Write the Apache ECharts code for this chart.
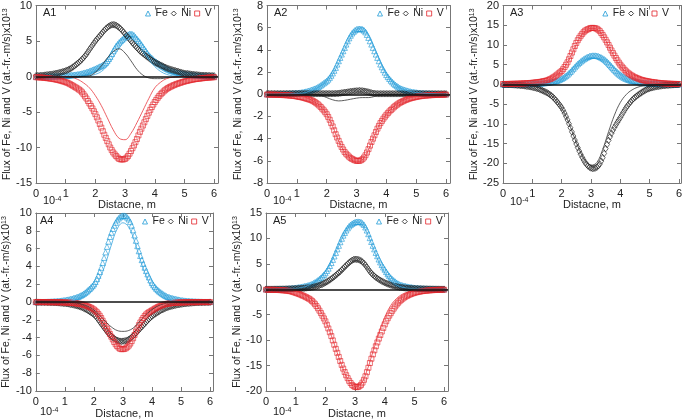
<!DOCTYPE html>
<html><head><meta charset="utf-8">
<script src="https://cdn.jsdelivr.net/npm/echarts@6/dist/echarts.min.js"></script>
<style>html,body{margin:0;padding:0;background:#fff}#c{width:685px;height:420px}</style>
</head><body><div id="c"></div>
<script>
// distance grid (x10^-4 m)
const X_MARK = [0,0.1,0.2,0.3,0.4,0.5,0.6,0.7,0.8,0.9,1,1.1,1.2,1.3,1.4,1.5,1.6,1.7,1.8,1.9,2,2.1,2.2,2.3,2.4,2.5,2.6,2.7,2.8,2.9,3,3.1,3.2,3.3,3.4,3.5,3.6,3.7,3.8,3.9,4,4.1,4.2,4.3,4.4,4.5,4.6,4.7,4.8,4.9,5,5.1,5.2,5.3,5.4,5.5,5.6,5.7,5.8,5.9,6];
const X_MID = [0.05,0.15,0.25,0.35,0.45,0.55,0.65,0.75,0.85,0.95,1.05,1.15,1.25,1.35,1.45,1.55,1.65,1.75,1.85,1.95,2.05,2.15,2.25,2.35,2.45,2.55,2.65,2.75,2.85,2.95,3.05,3.15,3.25,3.35,3.45,3.55,3.65,3.75,3.85,3.95,4.05,4.15,4.25,4.35,4.45,4.55,4.65,4.75,4.85,4.95,5.05,5.15,5.25,5.35,5.45,5.55,5.65,5.75,5.85,5.95];
const X_FIT = [0,0.2,0.4,0.6,0.8,1,1.2,1.4,1.6,1.8,2,2.2,2.4,2.6,2.8,3,3.2,3.4,3.6,3.8,4,4.2,4.4,4.6,4.8,5,5.2,5.4,5.6,5.8,6];
const X_TICKS = ['0','1','2','3','4','5','6'];

// A1
const A1_FE = [0,0,0,0.01,0.02,0.03,0.04,0.05,0.07,0.09,0.12,0.16,0.2,0.25,0.3,0.38,0.48,0.6,0.75,0.92,1.1,1.3,1.5,1.75,2.2,2.8,3.6,4.3,4.8,5.2,5.6,5.9,6.0,5.8,5.3,4.8,4.2,3.6,3.0,2.6,2.2,1.9,1.6,1.35,1.1,0.9,0.76,0.64,0.53,0.43,0.35,0.29,0.23,0.18,0.14,0.11,0.08,0.06,0.04,0.03,0.02];
const A1_FE_M = [0,0,0.005,0.015,0.025,0.035,0.045,0.06,0.08,0.1,0.14,0.18,0.22,0.27,0.34,0.43,0.54,0.67,0.83,1.0,1.2,1.4,1.62,1.95,2.5,3.2,3.95,4.55,5.0,5.4,5.75,5.98,5.93,5.55,5.05,4.5,3.9,3.3,2.8,2.4,2.05,1.75,1.47,1.22,1.0,0.83,0.7,0.58,0.48,0.39,0.32,0.26,0.2,0.16,0.12,0.09,0.07,0.05,0.035,0.025];
const A1_NI = [0.1,0.12,0.15,0.2,0.25,0.3,0.37,0.45,0.55,0.67,0.8,0.98,1.2,1.5,1.85,2.2,2.65,3.15,3.8,4.4,5.0,5.5,6.0,6.5,6.9,7.2,7.3,7.2,6.9,6.5,6.0,5.5,5.0,4.5,4.05,3.6,3.25,2.9,2.6,2.3,2.0,1.8,1.6,1.4,1.2,1.05,0.92,0.8,0.68,0.55,0.45,0.4,0.34,0.28,0.24,0.2,0.17,0.15,0.13,0.11,0.1];
const A1_NI_M = [0.11,0.13,0.17,0.22,0.27,0.33,0.41,0.5,0.61,0.73,0.89,1.08,1.35,1.67,2.02,2.42,2.9,3.47,4.1,4.7,5.25,5.75,6.25,6.72,7.07,7.27,7.27,7.07,6.72,6.25,5.75,5.25,4.75,4.27,3.82,3.42,3.07,2.75,2.45,2.15,1.9,1.7,1.5,1.3,1.12,0.98,0.86,0.74,0.61,0.5,0.42,0.37,0.31,0.26,0.22,0.18,0.16,0.14,0.12,0.1];
const A1_V = [-0.1,-0.12,-0.15,-0.2,-0.25,-0.3,-0.37,-0.45,-0.55,-0.67,-0.8,-0.97,-1.2,-1.45,-1.7,-2.0,-2.5,-3.1,-3.8,-4.5,-5.3,-6.2,-7.2,-8.2,-9.1,-10.0,-10.7,-11.2,-11.6,-11.7,-11.6,-11.2,-10.5,-9.7,-8.8,-7.8,-6.9,-6.0,-5.1,-4.3,-3.6,-3.0,-2.5,-2.1,-1.75,-1.5,-1.3,-1.12,-0.97,-0.83,-0.7,-0.6,-0.5,-0.42,-0.35,-0.3,-0.25,-0.2,-0.16,-0.13,-0.1];
const A1_V_M = [-0.11,-0.13,-0.17,-0.22,-0.27,-0.33,-0.41,-0.5,-0.61,-0.73,-0.88,-1.08,-1.32,-1.57,-1.85,-2.23,-2.8,-3.45,-4.15,-4.9,-5.75,-6.7,-7.7,-8.65,-9.55,-10.37,-10.97,-11.42,-11.67,-11.67,-11.42,-10.87,-10.1,-9.25,-8.3,-7.35,-6.45,-5.55,-4.7,-3.95,-3.3,-2.75,-2.3,-1.92,-1.62,-1.4,-1.21,-1.04,-0.9,-0.76,-0.65,-0.55,-0.46,-0.38,-0.32,-0.27,-0.22,-0.18,-0.14,-0.11];
const A1_FE_FIT = [0,0,0,0,0,0,0,0.02,0.05,0.1,0.3,0.7,1.5,2.7,4.0,5.0,5.3,4.7,3.6,2.4,1.4,0.7,0.3,0.1,0.03,0,0,0,0,0,0];
const A1_NI_FIT = [0,0,0,0,0,0,0,0.01,0.03,0.1,0.6,1.5,2.6,3.5,3.9,3.3,2.2,1.0,0.2,-0.2,-0.3,-0.3,-0.2,-0.1,-0.05,0,0,0,0,0,0];
const A1_V_FIT = [0,0,0,0,0,0,-0.1,-0.4,-0.9,-1.6,-2.7,-4.1,-5.8,-7.5,-8.7,-8.9,-8.0,-6.5,-4.8,-3.1,-1.6,-0.8,-0.3,-0.1,-0.03,0,0,0,0,0,0];

// A2
const A2_FE = [0.02,0.02,0.02,0.03,0.03,0.04,0.05,0.06,0.07,0.09,0.11,0.14,0.18,0.24,0.31,0.4,0.5,0.63,0.8,1.0,1.2,1.5,1.9,2.4,3.0,3.6,4.2,4.8,5.3,5.65,5.85,5.9,5.85,5.6,5.1,4.5,3.9,3.3,2.7,2.2,1.75,1.4,1.1,0.85,0.65,0.5,0.4,0.32,0.25,0.2,0.16,0.13,0.1,0.08,0.07,0.06,0.05,0.04,0.03,0.03,0.02];
const A2_FE_M = [0.02,0.02,0.025,0.03,0.035,0.045,0.055,0.065,0.08,0.1,0.12,0.16,0.21,0.27,0.35,0.45,0.56,0.71,0.9,1.1,1.34,1.69,2.14,2.7,3.3,3.9,4.5,5.06,5.5,5.77,5.89,5.89,5.75,5.37,4.8,4.2,3.6,3.0,2.45,1.97,1.57,1.24,0.97,0.75,0.57,0.45,0.36,0.28,0.22,0.18,0.14,0.11,0.09,0.075,0.065,0.055,0.045,0.035,0.03,0.025];
const A2_NI = [0.05,0.05,0.05,0.05,0.05,0.05,0.05,0.05,0.05,0.05,0.05,0.05,0.05,0.05,0.05,0.05,0.05,0.05,0.05,0.05,0.05,0.05,0.05,0.06,0.08,0.12,0.16,0.2,0.24,0.28,0.3,0.32,0.3,0.26,0.2,0.12,0.07,0.04,0.04,0.04,0.04,0.04,0.04,0.04,0.04,0.04,0.04,0.04,0.04,0.04,0.04,0.04,0.04,0.04,0.04,0.04,0.04,0.04,0.04,0.04,0.04];
const A2_NI_M = [0.05,0.05,0.05,0.05,0.05,0.05,0.05,0.05,0.05,0.05,0.05,0.05,0.05,0.05,0.05,0.05,0.05,0.05,0.05,0.05,0.05,0.05,0.055,0.07,0.1,0.14,0.18,0.22,0.26,0.29,0.31,0.31,0.28,0.23,0.16,0.09,0.055,0.04,0.04,0.04,0.04,0.04,0.04,0.04,0.04,0.04,0.04,0.04,0.04,0.04,0.04,0.04,0.04,0.04,0.04,0.04,0.04,0.04,0.04,0.04];
const A2_V = [-0.03,-0.03,-0.04,-0.05,-0.06,-0.07,-0.08,-0.1,-0.12,-0.15,-0.2,-0.25,-0.3,-0.38,-0.46,-0.55,-0.7,-0.9,-1.15,-1.45,-1.8,-2.3,-2.9,-3.6,-4.2,-4.75,-5.2,-5.5,-5.75,-5.9,-6.0,-6.0,-5.85,-5.5,-4.95,-4.3,-3.7,-3.1,-2.6,-2.2,-1.85,-1.55,-1.3,-1.05,-0.85,-0.7,-0.57,-0.46,-0.37,-0.3,-0.24,-0.19,-0.15,-0.12,-0.1,-0.08,-0.07,-0.06,-0.05,-0.04,-0.03];
const A2_V_M = [-0.03,-0.035,-0.045,-0.055,-0.065,-0.075,-0.09,-0.11,-0.135,-0.17,-0.22,-0.27,-0.34,-0.42,-0.5,-0.62,-0.8,-1.02,-1.3,-1.62,-2.04,-2.6,-3.25,-3.9,-4.5,-4.98,-5.36,-5.63,-5.83,-5.96,-6.01,-5.94,-5.7,-5.25,-4.63,-4.0,-3.4,-2.85,-2.4,-2.02,-1.7,-1.42,-1.17,-0.95,-0.77,-0.63,-0.51,-0.41,-0.33,-0.27,-0.21,-0.17,-0.13,-0.11,-0.09,-0.075,-0.065,-0.055,-0.045,-0.035];
const A2_FE_FIT = [0,0,0.01,0.02,0.04,0.07,0.1,0.25,0.45,0.75,1.15,1.8,2.8,4.0,5.1,5.8,6.0,5.4,4.2,2.9,1.8,1.1,0.65,0.4,0.25,0.15,0.1,0.06,0.04,0.02,0.01];
const A2_NI_FIT = [0,0,0,0,0,0,0,0,0,-0.1,-0.3,-0.5,-0.6,-0.55,-0.45,-0.35,-0.3,-0.3,-0.2,-0.05,0,0,0,0,0,0,0,0,0,0,0];
const A2_V_FIT = [0,0,-0.01,-0.02,-0.05,-0.1,-0.2,-0.4,-0.7,-1.1,-1.8,-2.9,-4.2,-5.2,-5.8,-6.1,-5.9,-5.0,-3.7,-2.6,-1.8,-1.2,-0.8,-0.5,-0.3,-0.2,-0.12,-0.08,-0.05,-0.03,-0.02];

// A3
const A3_FE = [0.02,0.02,0.03,0.03,0.04,0.05,0.06,0.08,0.1,0.12,0.15,0.19,0.23,0.28,0.34,0.42,0.52,0.66,0.85,1.1,1.45,1.9,2.5,3.2,4.0,4.8,5.5,6.1,6.6,7.0,7.25,7.3,7.25,7.0,6.6,6.1,5.4,4.6,3.8,3.1,2.5,2.0,1.6,1.25,0.98,0.78,0.62,0.5,0.4,0.32,0.26,0.21,0.17,0.14,0.11,0.09,0.07,0.06,0.05,0.04,0.03];
const A3_FE_M = [0.02,0.025,0.03,0.035,0.045,0.055,0.07,0.09,0.11,0.135,0.17,0.21,0.255,0.31,0.38,0.47,0.59,0.75,0.97,1.27,1.66,2.18,2.84,3.6,4.4,5.17,5.82,6.37,6.82,7.15,7.3,7.3,7.15,6.82,6.37,5.77,5.0,4.2,3.45,2.8,2.24,1.8,1.42,1.1,0.88,0.7,0.56,0.45,0.36,0.29,0.23,0.19,0.155,0.125,0.1,0.08,0.065,0.055,0.045,0.035];
const A3_NI = [-0.05,-0.06,-0.08,-0.1,-0.14,-0.2,-0.27,-0.35,-0.45,-0.57,-0.7,-0.88,-1.1,-1.4,-1.75,-2.1,-2.6,-3.2,-4.0,-4.9,-5.9,-7.3,-9.0,-11.0,-13.1,-15.1,-16.9,-18.5,-19.8,-20.7,-21.2,-21.3,-21.0,-20.2,-18.6,-16.3,-14.2,-12.4,-10.9,-9.6,-8.4,-7.1,-5.9,-4.9,-4.0,-3.3,-2.7,-2.2,-1.7,-1.3,-1.0,-0.8,-0.63,-0.5,-0.39,-0.3,-0.23,-0.17,-0.12,-0.08,-0.05];
const A3_NI_M = [-0.055,-0.07,-0.09,-0.12,-0.17,-0.23,-0.31,-0.4,-0.51,-0.63,-0.79,-0.99,-1.24,-1.57,-1.92,-2.33,-2.88,-3.58,-4.43,-5.38,-6.55,-8.13,-9.98,-12.05,-14.12,-16.03,-17.73,-19.18,-20.28,-21.0,-21.3,-21.2,-20.65,-19.45,-17.5,-15.23,-13.28,-11.63,-10.23,-9.0,-7.74,-6.48,-5.38,-4.43,-3.63,-2.98,-2.44,-1.94,-1.49,-1.14,-0.89,-0.71,-0.56,-0.44,-0.34,-0.26,-0.2,-0.14,-0.1,-0.065];
const A3_V = [0.1,0.11,0.12,0.14,0.16,0.18,0.21,0.25,0.29,0.34,0.4,0.48,0.57,0.68,0.83,1.0,1.3,1.7,2.2,2.8,3.4,4.4,5.6,7.2,8.9,10.5,11.8,12.8,13.6,14.0,14.3,14.3,14.1,13.5,12.5,11.3,10.0,8.6,7.3,6.1,5.0,4.1,3.3,2.7,2.2,1.8,1.5,1.2,1.0,0.85,0.7,0.58,0.48,0.39,0.31,0.25,0.2,0.16,0.13,0.11,0.1];
const A3_V_M = [0.105,0.115,0.13,0.15,0.17,0.195,0.23,0.27,0.31,0.37,0.44,0.52,0.62,0.75,0.9,1.13,1.48,1.93,2.48,3.08,3.85,4.97,6.37,8.07,9.73,11.2,12.33,13.23,13.83,14.17,14.33,14.23,13.83,13.03,11.93,10.65,9.3,7.93,6.68,5.53,4.53,3.68,2.98,2.43,1.99,1.64,1.34,1.09,0.92,0.77,0.64,0.53,0.43,0.35,0.28,0.22,0.18,0.145,0.12,0.105];
const A3_FE_FIT = [0,0,0,0,0,0.01,0.03,0.1,0.3,0.7,1.4,2.4,3.7,5.1,6.2,6.8,6.6,5.6,4.0,2.4,1.2,0.5,0.15,0.03,0,0,0,0,0,0,0];
const A3_NI_FIT = [0,0,-0.05,-0.1,-0.2,-0.4,-0.8,-1.5,-2.5,-4.0,-6.0,-9.0,-12.8,-16.5,-19.3,-20.5,-19.8,-16.5,-12.0,-7.8,-4.6,-2.6,-1.4,-0.7,-0.35,-0.15,-0.07,-0.03,0,0,0];
const A3_V_FIT = [0.05,0.06,0.08,0.12,0.2,0.3,0.5,0.8,1.3,2.2,3.5,5.6,8.6,11.6,13.5,14.2,14.0,12.4,9.8,7.0,4.7,3.0,1.9,1.2,0.8,0.5,0.3,0.2,0.12,0.08,0.05];

// A4
const A4_FE = [0.02,0.02,0.03,0.03,0.04,0.05,0.07,0.09,0.12,0.16,0.2,0.26,0.33,0.42,0.52,0.65,0.82,1.05,1.33,1.65,2.0,2.6,3.4,4.4,5.6,6.8,7.8,8.6,9.2,9.55,9.7,9.65,9.3,8.6,7.5,6.3,5.2,4.3,3.5,2.8,2.15,1.7,1.35,1.08,0.85,0.65,0.52,0.42,0.34,0.27,0.2,0.16,0.13,0.1,0.08,0.06,0.05,0.04,0.03,0.03,0.02];
const A4_FE_M = [0.02,0.025,0.03,0.035,0.045,0.06,0.08,0.1,0.14,0.18,0.23,0.29,0.37,0.47,0.58,0.73,0.93,1.18,1.48,1.81,2.27,2.97,3.87,4.98,6.22,7.33,8.23,8.92,9.4,9.65,9.7,9.5,9.0,8.08,6.9,5.73,4.73,3.88,3.13,2.45,1.9,1.51,1.2,0.96,0.74,0.58,0.47,0.38,0.3,0.23,0.18,0.145,0.115,0.09,0.07,0.055,0.045,0.035,0.03,0.025];
const A4_NI = [-0.02,-0.02,-0.03,-0.03,-0.04,-0.05,-0.06,-0.08,-0.1,-0.13,-0.16,-0.2,-0.26,-0.33,-0.41,-0.5,-0.62,-0.78,-0.97,-1.18,-1.4,-1.75,-2.2,-2.65,-3.1,-3.5,-3.85,-4.1,-4.3,-4.4,-4.4,-4.35,-4.2,-3.95,-3.65,-3.3,-2.95,-2.6,-2.25,-1.9,-1.6,-1.36,-1.15,-0.95,-0.8,-0.65,-0.54,-0.45,-0.37,-0.3,-0.25,-0.2,-0.16,-0.13,-0.1,-0.08,-0.06,-0.05,-0.04,-0.03,-0.02];
const A4_NI_M = [-0.02,-0.025,-0.03,-0.035,-0.045,-0.055,-0.07,-0.09,-0.115,-0.145,-0.18,-0.23,-0.29,-0.37,-0.45,-0.56,-0.7,-0.87,-1.07,-1.28,-1.56,-1.97,-2.43,-2.88,-3.31,-3.69,-3.99,-4.21,-4.37,-4.41,-4.38,-4.29,-4.09,-3.81,-3.48,-3.13,-2.78,-2.43,-2.07,-1.74,-1.47,-1.25,-1.05,-0.87,-0.72,-0.59,-0.49,-0.41,-0.33,-0.27,-0.22,-0.18,-0.145,-0.115,-0.09,-0.07,-0.055,-0.045,-0.035,-0.025];
const A4_V = [-0.01,-0.01,-0.01,-0.01,-0.02,-0.02,-0.02,-0.03,-0.03,-0.04,-0.05,-0.07,-0.09,-0.12,-0.16,-0.21,-0.28,-0.37,-0.5,-0.65,-0.85,-1.15,-1.55,-2.1,-2.7,-3.3,-3.9,-4.5,-4.95,-5.25,-5.3,-5.2,-4.9,-4.4,-3.7,-2.95,-2.3,-1.8,-1.4,-1.15,-0.95,-0.75,-0.57,-0.42,-0.3,-0.22,-0.16,-0.12,-0.09,-0.07,-0.05,-0.04,-0.03,-0.02,-0.02,-0.02,-0.01,-0.01,-0.01,-0.01,-0.01];
const A4_V_M = [-0.01,-0.01,-0.01,-0.015,-0.02,-0.02,-0.025,-0.03,-0.035,-0.045,-0.06,-0.08,-0.1,-0.14,-0.18,-0.24,-0.32,-0.43,-0.57,-0.74,-0.99,-1.34,-1.8,-2.4,-3.0,-3.6,-4.2,-4.75,-5.12,-5.3,-5.27,-5.07,-4.67,-4.07,-3.32,-2.6,-2.03,-1.58,-1.26,-1.05,-0.85,-0.66,-0.49,-0.36,-0.26,-0.19,-0.14,-0.1,-0.08,-0.06,-0.045,-0.035,-0.025,-0.02,-0.02,-0.015,-0.01,-0.01,-0.01,-0.01];
const A4_FE_FIT = [0,0,0,0,0.01,0.04,0.1,0.25,0.5,0.9,1.5,2.6,4.3,6.4,8.2,8.9,8.4,6.8,4.7,2.9,1.6,0.9,0.45,0.2,0.1,0.04,0.02,0.01,0,0,0];
const A4_NI_FIT = [0,0,0,0,-0.01,-0.02,-0.05,-0.1,-0.25,-0.5,-0.9,-1.5,-2.2,-2.8,-3.2,-3.3,-3.2,-2.8,-2.1,-1.4,-0.85,-0.45,-0.2,-0.08,-0.03,0,0,0,0,0,0];
const A4_V_FIT = [0,0,0,0,0,0,-0.01,-0.03,-0.1,-0.3,-0.7,-1.4,-2.5,-3.8,-4.8,-5.1,-4.7,-3.6,-2.3,-1.3,-0.7,-0.35,-0.15,-0.05,-0.02,0,0,0,0,0,0];

// A5
const A5_FE = [0.03,0.03,0.04,0.05,0.06,0.07,0.09,0.12,0.16,0.22,0.3,0.38,0.48,0.6,0.74,0.92,1.2,1.55,2.0,2.55,3.2,4.1,5.2,6.5,7.9,9.3,10.6,11.6,12.4,12.9,13.2,13.3,13.2,12.7,11.6,10.1,8.6,7.2,5.9,4.8,3.9,3.0,2.3,1.75,1.3,0.95,0.75,0.6,0.48,0.38,0.3,0.24,0.19,0.15,0.12,0.1,0.08,0.06,0.05,0.04,0.03];
const A5_FE_M = [0.03,0.035,0.045,0.055,0.065,0.08,0.1,0.14,0.19,0.26,0.34,0.43,0.54,0.67,0.83,1.05,1.37,1.77,2.27,2.87,3.63,4.63,5.83,7.2,8.6,9.98,11.13,12.03,12.68,13.07,13.27,13.27,12.98,12.2,10.88,9.35,7.9,6.55,5.33,4.33,3.43,2.63,2.0,1.52,1.11,0.84,0.67,0.54,0.43,0.34,0.27,0.215,0.17,0.135,0.11,0.09,0.07,0.055,0.045,0.035];
const A5_NI = [0.02,0.02,0.02,0.03,0.03,0.04,0.05,0.06,0.07,0.09,0.11,0.14,0.18,0.23,0.29,0.36,0.46,0.6,0.78,1.0,1.3,1.65,2.05,2.5,3.0,3.5,4.1,4.7,5.25,5.7,5.9,5.85,5.6,5.1,4.35,3.5,2.85,2.35,1.95,1.6,1.3,1.05,0.84,0.67,0.52,0.4,0.32,0.25,0.2,0.16,0.13,0.1,0.08,0.07,0.06,0.05,0.04,0.03,0.03,0.02,0.02];
const A5_NI_M = [0.02,0.02,0.025,0.03,0.035,0.045,0.055,0.065,0.08,0.1,0.125,0.16,0.2,0.26,0.32,0.41,0.53,0.69,0.89,1.15,1.47,1.85,2.27,2.75,3.25,3.8,4.4,4.98,5.5,5.83,5.9,5.75,5.38,4.75,3.92,3.15,2.6,2.15,1.77,1.45,1.17,0.94,0.75,0.59,0.46,0.36,0.28,0.22,0.18,0.145,0.115,0.09,0.075,0.065,0.055,0.045,0.035,0.03,0.025,0.02];
const A5_V = [-0.08,-0.09,-0.1,-0.12,-0.14,-0.17,-0.21,-0.27,-0.36,-0.5,-0.7,-0.9,-1.15,-1.4,-1.7,-2.05,-2.6,-3.3,-4.2,-5.2,-6.3,-7.7,-9.2,-10.9,-12.5,-14.1,-15.6,-16.9,-18.0,-18.8,-19.2,-19.2,-18.8,-17.8,-16.3,-14.5,-12.8,-11.2,-9.7,-8.3,-6.9,-5.7,-4.7,-3.8,-3.0,-2.35,-1.85,-1.45,-1.15,-0.9,-0.7,-0.55,-0.43,-0.34,-0.27,-0.21,-0.17,-0.14,-0.11,-0.09,-0.08];
const A5_V_M = [-0.085,-0.095,-0.11,-0.13,-0.155,-0.19,-0.24,-0.31,-0.42,-0.6,-0.8,-1.02,-1.27,-1.55,-1.87,-2.3,-2.93,-3.73,-4.68,-5.73,-6.98,-8.45,-10.05,-11.72,-13.3,-14.87,-16.27,-17.47,-18.43,-19.03,-19.25,-19.05,-18.35,-17.1,-15.43,-13.65,-12.0,-10.45,-9.0,-7.6,-6.28,-5.18,-4.23,-3.38,-2.65,-2.08,-1.63,-1.29,-1.02,-0.79,-0.62,-0.49,-0.38,-0.3,-0.24,-0.19,-0.155,-0.125,-0.1,-0.085];
const A5_FE_FIT = [0,0,0.01,0.03,0.07,0.15,0.35,0.7,1.3,2.2,3.5,5.4,7.9,10.4,12.3,13.2,12.9,11.1,8.2,5.4,3.2,1.7,0.85,0.4,0.18,0.08,0.03,0.01,0,0,0];
const A5_NI_FIT = [0,0,0,0.01,0.02,0.05,0.1,0.2,0.4,0.7,1.1,1.8,2.7,3.8,4.9,5.6,5.4,4.3,2.9,1.8,1.05,0.6,0.3,0.15,0.07,0.03,0.01,0,0,0,0];
const A5_V_FIT = [-0.02,-0.03,-0.05,-0.1,-0.2,-0.4,-0.8,-1.4,-2.4,-4.0,-6.2,-9.1,-12.5,-15.7,-18.1,-19.1,-18.6,-16.0,-12.3,-8.6,-5.5,-3.2,-1.8,-0.95,-0.5,-0.25,-0.12,-0.06,-0.03,-0.01,0];

const PANEL_NAMES = ['A1','A2','A3','A4','A5'];
const ELEMENTS = ['Fe','Ni','V'];
const X_TITLE = 'Distacne, m';
const Y_TITLE = 'Flux of Fe, Ni and V (at.-fr.-m/s)x10{s|13}';

const MARK = {A1:{Fe:A1_FE,Ni:A1_NI,V:A1_V},A2:{Fe:A2_FE,Ni:A2_NI,V:A2_V},A3:{Fe:A3_FE,Ni:A3_NI,V:A3_V},A4:{Fe:A4_FE,Ni:A4_NI,V:A4_V},A5:{Fe:A5_FE,Ni:A5_NI,V:A5_V}};
const MARK_MID = {A1:{Fe:A1_FE_M,Ni:A1_NI_M,V:A1_V_M},A2:{Fe:A2_FE_M,Ni:A2_NI_M,V:A2_V_M},A3:{Fe:A3_FE_M,Ni:A3_NI_M,V:A3_V_M},A4:{Fe:A4_FE_M,Ni:A4_NI_M,V:A4_V_M},A5:{Fe:A5_FE_M,Ni:A5_NI_M,V:A5_V_M}};
const FIT = {A1:{Fe:A1_FE_FIT,Ni:A1_NI_FIT,V:A1_V_FIT},A2:{Fe:A2_FE_FIT,Ni:A2_NI_FIT,V:A2_V_FIT},A3:{Fe:A3_FE_FIT,Ni:A3_NI_FIT,V:A3_V_FIT},A4:{Fe:A4_FE_FIT,Ni:A4_NI_FIT,V:A4_V_FIT},A5:{Fe:A5_FE_FIT,Ni:A5_NI_FIT,V:A5_V_FIT}};
const Y_RANGE = {A1:[-15,10,5],A2:[-8,8,2],A3:[-25,20,5],A4:[-10,10,2],A5:[-20,15,5]};

// layout (pixels)
const LAYOUT = {
  A1:{grid:{left:36,top:5,width:182,height:178},xMax:6.13,legend:{left:145,top:8},lab:[43,13],unit:[43,201],nameGap:22,xGap:15},
  A2:{grid:{left:267,top:5,width:183,height:178},xMax:6.13,legend:{left:377,top:8},lab:[274,13],unit:[273,201],nameGap:23,xGap:15},
  A3:{grid:{left:503,top:4,width:180,height:179},xMax:6.07,legend:{right:16,top:8},lab:[510,13],unit:[510,202],nameGap:23,xGap:15},
  A4:{grid:{left:32,top:213,width:181,height:179},xMax:6.1,legend:{left:142,top:216},lab:[40,221],unit:[40,412],nameGap:20,xGap:17},
  A5:{grid:{left:266,top:213,width:182,height:179},xMax:6.13,legend:{left:376,top:216},lab:[273,221],unit:[273,412],nameGap:21,xGap:17}
};

const COLOR = {Fe:'#1f9bd7', Ni:'#1a1a1a', V:'#e3242b'};
const FIT_COLOR = {Fe:'#3aa6de', Ni:'#333333', V:'#e8393f'};
const SYMBOL = {Fe:'triangle', Ni:'diamond', V:'rect'};
const SIZE = {Fe:[5.5,5.5], Ni:[5,6.5], V:[5,5]};
const FONT = 'Liberation Sans, Arial, sans-serif';
const AX = '#777';

const grid=[], xAxis=[], yAxis=[], series=[], legend=[], graphic=[];
PANEL_NAMES.forEach((p, i) => {
  const L = LAYOUT[p], R = Y_RANGE[p];
  grid.push(Object.assign({}, L.grid));
  const xb = {gridIndex:i, type:'value', min:0, max:L.xMax, interval:1, position:'bottom',
    axisLine:{show:true,onZero:false,lineStyle:{color:AX}},
    axisTick:{show:true,inside:true,length:4,lineStyle:{color:AX}},
    axisLabel:{margin:5,fontSize:11,color:'#222',fontFamily:FONT,
      formatter:v=>{const r=Math.round(v);return Math.abs(v-r)<1e-6 && X_TICKS.includes(String(r))?String(r):'';}},
    splitLine:{show:false},
    name:X_TITLE, nameLocation:'middle', nameGap:L.xGap,
    nameTextStyle:{fontSize:11,color:'#222',fontFamily:FONT}};
  const xt = {gridIndex:i, type:'value', min:0, max:L.xMax, interval:1, position:'top',
    axisLine:{show:true,onZero:false,lineStyle:{color:AX}},
    axisTick:{show:true,inside:true,length:4,lineStyle:{color:AX}},
    axisLabel:{show:false}, splitLine:{show:false}};
  xAxis.push(xb, xt);
  const yl = {gridIndex:i, type:'value', min:R[0], max:R[1], interval:R[2], position:'left',
    axisLine:{show:true,onZero:false,lineStyle:{color:AX}},
    axisTick:{show:true,inside:true,length:4,lineStyle:{color:AX}},
    axisLabel:{margin:4,fontSize:11,color:'#222',fontFamily:FONT},
    splitLine:{show:false},
    name:Y_TITLE, nameLocation:'middle', nameRotate:90, nameGap:L.nameGap,
    nameTextStyle:{fontSize:10.5,color:'#222',fontFamily:FONT,
      rich:{s:{fontSize:7,color:'#222',fontFamily:FONT,verticalAlign:'top'}}}};
  const yr = {gridIndex:i, type:'value', min:R[0], max:R[1], interval:R[2], position:'right',
    axisLine:{show:true,onZero:false,lineStyle:{color:AX}},
    axisTick:{show:true,inside:true,length:4,lineStyle:{color:AX}},
    axisLabel:{show:false}, splitLine:{show:false}};
  yAxis.push(yl, yr);
  ELEMENTS.forEach(el => {
    const pts = X_MARK.map((x,k)=>[x, MARK[p][el][k]]).concat(X_MID.map((x,k)=>[x, MARK_MID[p][el][k]]));
    series.push({type:'scatter', name:el, xAxisIndex:2*i, yAxisIndex:2*i,
      symbol:SYMBOL[el], symbolSize:SIZE[el], z:2, silent:true,
      itemStyle:{color:'rgba(255,255,255,0)', borderColor:COLOR[el], borderWidth:0.8},
      data:pts});
  });
  ELEMENTS.forEach((el, j) => {
    const s = {type:'line', name:el+' model', xAxisIndex:2*i, yAxisIndex:2*i,
      smooth:0.4, showSymbol:false, z:3, silent:true,
      lineStyle:{width:0.8,color:FIT_COLOR[el]}, itemStyle:{color:FIT_COLOR[el]},
      data:X_FIT.map((x,k)=>[x, FIT[p][el][k]])};
    if (j===2) s.markLine = {silent:true, symbol:'none', label:{show:false}, z:5,
      lineStyle:{color:'#111',width:1.5,type:'solid'}, emphasis:{disabled:true}, data:[{yAxis:0}]};
    series.push(s);
  });
  legend.push(Object.assign({data:ELEMENTS.map(el=>({name:el, icon:SYMBOL[el],
      itemStyle:{color:'rgba(255,255,255,0)', borderColor:COLOR[el], borderWidth:1}})),
    padding:0, itemWidth:5, itemHeight:5, itemGap:3, orient:'horizontal',
    selectedMode:false, textStyle:{fontSize:10.5,color:'#222',fontFamily:FONT}}, L.legend));
  graphic.push({type:'text', x:L.lab[0], y:L.lab[1], style:{text:p, fontSize:11, fill:'#222', fontFamily:FONT, verticalAlign:'middle'}});
  graphic.push({type:'text', x:L.unit[0], y:L.unit[1], style:{text:'10{s|-4}', fontSize:11, fill:'#222', fontFamily:FONT, verticalAlign:'middle',
    rich:{s:{fontSize:7, fill:'#222', fontFamily:FONT, verticalAlign:'top'}}}});
});

const chart = echarts.init(document.getElementById('c'), null, {renderer:'canvas'});
chart.setOption({animation:false, backgroundColor:'#fff', grid, xAxis, yAxis, series, legend, graphic});
</script></body></html>
